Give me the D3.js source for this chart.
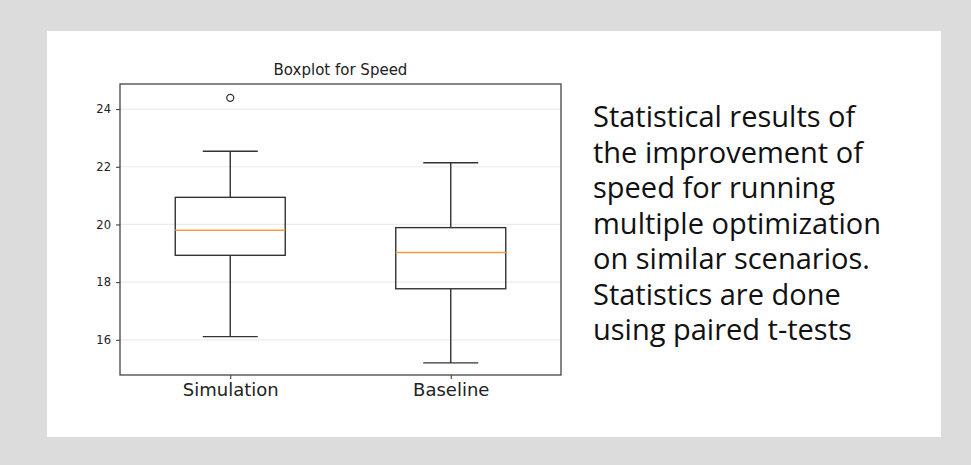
<!DOCTYPE html>
<html lang="en">
  <head>
    <meta charset="UTF-8" />
    <title>Boxplot for Speed</title>
    <script src="https://d3js.org/d3.v7.min.js"></script>
    <style>
      body {
        margin: 0;
        background: #dcdcdc;
      }
      .tick text {
        font-family: "DejaVu Sans", sans-serif;
        fill: #222;
      }
    </style>
  </head>
  <body>
    <svg width="971" height="465"></svg>
    <script>
      const groups = ["Simulation", "Baseline"];
      const whiskerLow = [16.11, 15.2];
      const q1 = [18.93, 17.77];
      const median = [19.8, 19.03];
      const q3 = [20.94, 19.89];
      const whiskerHigh = [22.54, 22.14];
      const outliers = [[24.39], []];
      const yTicks = [16, 18, 20, 22, 24];
      const noteLines = [
        "Statistical results of",
        "the improvement of",
        "speed for running",
        "multiple optimization",
        "on similar scenarios.",
        "Statistics are done",
        "using paired t-tests",
      ];

      const svg = d3.select("svg");

      // white card
      svg
        .append("rect")
        .attr("x", 47)
        .attr("y", 31)
        .attr("width", 894)
        .attr("height", 406)
        .attr("fill", "#fff");

      const plotL = 120,
        plotR = 561,
        plotT = 84,
        plotB = 375;

      const x = d3
        .scalePoint()
        .domain(groups)
        .range([plotL, plotR])
        .padding(0.5);
      const y = d3.scaleLinear().domain([14.78, 24.87]).range([plotB, plotT]);

      // grid
      svg
        .append("g")
        .selectAll("line")
        .data(yTicks)
        .join("line")
        .attr("x1", plotL)
        .attr("x2", plotR)
        .attr("y1", (d) => y(d))
        .attr("y2", (d) => y(d))
        .attr("stroke", "#ececec")
        .attr("stroke-width", 1.2);

      const boxW = 110;
      const capW = 55;
      const idx = d3.range(groups.length);
      const boxes = svg.append("g").attr("stroke", "#333").attr("stroke-width", 1.4);

      // whiskers
      boxes
        .selectAll(".wh")
        .data(idx)
        .join("path")
        .attr("class", "wh")
        .attr("fill", "none")
        .attr("d", (i) => {
          const cx = x(groups[i]);
          return (
            `M${cx},${y(q3[i])}V${y(whiskerHigh[i])}` +
            `M${cx - capW / 2},${y(whiskerHigh[i])}h${capW}` +
            `M${cx},${y(q1[i])}V${y(whiskerLow[i])}` +
            `M${cx - capW / 2},${y(whiskerLow[i])}h${capW}`
          );
        });

      boxes
        .selectAll("rect")
        .data(idx)
        .join("rect")
        .attr("x", (i) => x(groups[i]) - boxW / 2)
        .attr("y", (i) => y(q3[i]))
        .attr("width", boxW)
        .attr("height", (i) => y(q1[i]) - y(q3[i]))
        .attr("fill", "none");

      svg
        .append("g")
        .selectAll("line")
        .data(idx)
        .join("line")
        .attr("x1", (i) => x(groups[i]) - boxW / 2)
        .attr("x2", (i) => x(groups[i]) + boxW / 2)
        .attr("y1", (i) => y(median[i]))
        .attr("y2", (i) => y(median[i]))
        .attr("stroke", "#ff9a3c")
        .attr("stroke-width", 1.4);

      // fliers
      const fliers = idx.flatMap((i) => outliers[i].map((v) => ({ g: groups[i], v })));
      svg
        .append("g")
        .selectAll("circle")
        .data(fliers)
        .join("circle")
        .attr("cx", (d) => x(d.g))
        .attr("cy", (d) => y(d.v))
        .attr("r", 3.5)
        .attr("fill", "none")
        .attr("stroke", "#333")
        .attr("stroke-width", 1.3);

      // axes
      const yAxis = svg
        .append("g")
        .attr("transform", `translate(${plotL},0)`)
        .call(d3.axisLeft(y).tickValues(yTicks).tickSize(4).tickPadding(5));
      yAxis.selectAll(".tick text").attr("font-size", 11.5);

      const xAxis = svg
        .append("g")
        .attr("transform", `translate(0,${plotB})`)
        .call(d3.axisBottom(x).tickSize(4).tickPadding(4));
      xAxis.selectAll(".tick text").attr("font-size", 18);

      svg.selectAll(".domain").remove();
      svg.selectAll(".tick line").attr("stroke", "#333");

      svg
        .append("rect")
        .attr("x", plotL)
        .attr("y", plotT)
        .attr("width", plotR - plotL)
        .attr("height", plotB - plotT)
        .attr("fill", "none")
        .attr("stroke", "#444")
        .attr("stroke-width", 1.3);

      svg
        .append("text")
        .attr("x", (plotL + plotR) / 2)
        .attr("y", plotT - 9)
        .attr("text-anchor", "middle")
        .attr("font-family", "DejaVu Sans, sans-serif")
        .attr("font-size", 15)
        .attr("fill", "#222")
        .text("Boxplot for Speed");

      // side note
      svg
        .append("g")
        .selectAll("text")
        .data(noteLines)
        .join("text")
        .attr("x", 593)
        .attr("y", (d, i) => 127 + i * 35.5)
        .attr("font-family", "'Open Sans', sans-serif")
        .attr("font-size", 29)
        .attr("fill", "#111")
        .text((d) => d);
    </script>
  </body>
</html>
